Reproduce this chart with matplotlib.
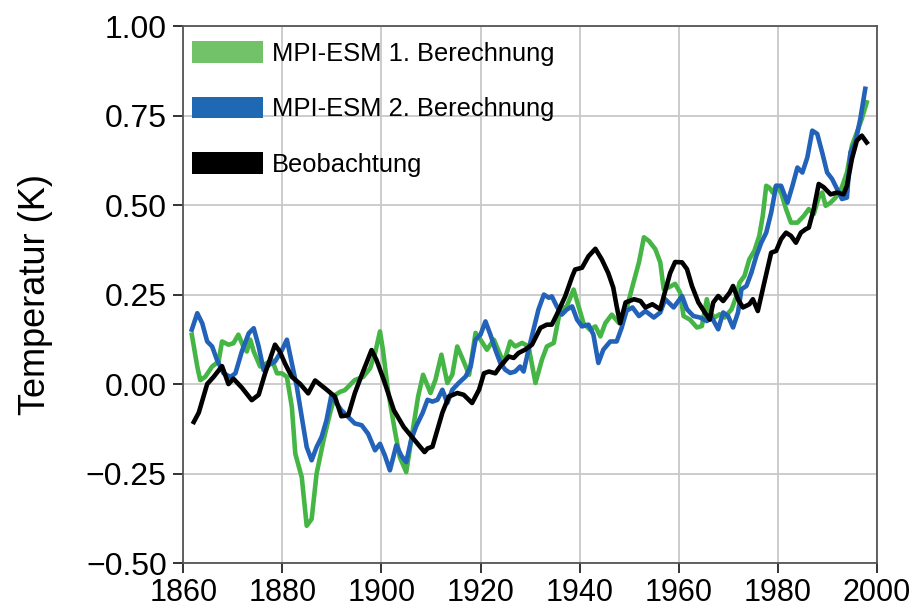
import matplotlib
matplotlib.use("Agg")
import matplotlib.pyplot as plt
from matplotlib.patches import Patch

plt.rcParams['font.family'] = ['Liberation Sans', 'DejaVu Sans']

# Beobachtung (black)
obs_year = [1862.1, 1863.1, 1864.8, 1866.1, 1867.8, 1869.1, 1870.1, 1871.8, 1873.8, 1875.2,
            1876.5, 1878.5, 1879.5, 1880.5, 1881.9, 1883.6, 1885.2, 1886.6, 1888.6, 1890.6,
            1891.9, 1893.3, 1894.6, 1896.0, 1898.0, 1899.0, 1900.5, 1902.5, 1904.5, 1906.7,
            1908.7, 1909.3, 1910.3, 1912.3, 1913.6, 1915.3, 1916.6, 1918.3, 1919.7, 1920.7,
            1921.7, 1923.0, 1924.0, 1925.7, 1926.7, 1927.7, 1929.0, 1930.4, 1932.1, 1933.4,
            1934.4, 1935.4, 1937.1, 1938.5, 1939.1, 1940.5, 1941.8, 1943.2, 1944.5, 1945.8,
            1946.8, 1947.5, 1948.2, 1949.3, 1951.0, 1952.3, 1953.3, 1954.7, 1956.3, 1957.3,
            1958.3, 1959.3, 1960.7, 1961.7, 1962.7, 1964.0, 1965.3, 1966.3, 1967.0, 1968.0,
            1969.0, 1970.3, 1971.0, 1972.0, 1973.0, 1974.3, 1975.0, 1976.0, 1977.3, 1978.7,
            1979.7, 1980.7, 1981.7, 1982.7, 1983.7, 1984.7, 1985.7, 1986.3, 1987.3, 1988.3,
            1989.3, 1990.7, 1992.0, 1993.3, 1994.0, 1995.0, 1996.0, 1997.0, 1998.0]
obs_val = [-0.106, -0.08, 0.0, 0.02, 0.05, 0.0, 0.015, -0.01, -0.045, -0.03,
           0.03, 0.11, 0.09, 0.058, 0.02, 0.0, -0.026, 0.01, -0.012, -0.035,
           -0.09, -0.087, -0.026, 0.025, 0.095, 0.067, 0.01, -0.073, -0.12, -0.157,
           -0.19, -0.18, -0.175, -0.08, -0.035, -0.025, -0.03, -0.053, -0.016, 0.03,
           0.035, 0.03, 0.05, 0.077, 0.073, 0.087, 0.096, 0.11, 0.157, 0.166,
           0.166, 0.194, 0.245, 0.30, 0.32, 0.325, 0.357, 0.378, 0.348, 0.31,
           0.27, 0.217, 0.17, 0.228, 0.237, 0.232, 0.214, 0.223, 0.209, 0.26,
           0.31, 0.341, 0.34, 0.321, 0.274, 0.228, 0.2, 0.18, 0.228, 0.246,
           0.232, 0.255, 0.274, 0.237, 0.214, 0.223, 0.237, 0.204, 0.283, 0.367,
           0.372, 0.405, 0.423, 0.414, 0.395, 0.423, 0.433, 0.437, 0.489, 0.559,
           0.55, 0.53, 0.535, 0.53, 0.554, 0.629, 0.68, 0.694, 0.675]

# MPI-ESM 1. Berechnung (green)
run1_year = [1861.7, 1862.8, 1863.4, 1864.4, 1865.8, 1867.1, 1867.8, 1869.1, 1870.1, 1871.1,
             1872.1, 1872.8, 1873.5, 1874.2, 1875.5, 1876.8, 1877.9, 1878.9, 1879.9, 1880.9,
             1881.9, 1882.6, 1883.9, 1884.9, 1885.9, 1886.9, 1888.3, 1889.6, 1890.6, 1891.6,
             1892.6, 1893.6, 1894.6, 1896.3, 1897.7, 1898.7, 1899.7, 1900.3, 1901.3, 1902.7,
             1903.7, 1905.0, 1906.0, 1907.4, 1908.4, 1909.9, 1910.9, 1912.1, 1913.3, 1914.3,
             1915.3, 1916.3, 1917.7, 1919.0, 1920.0, 1921.3, 1922.7, 1923.7, 1924.7, 1926.0,
             1927.0, 1928.4, 1929.7, 1931.1, 1932.4, 1933.4, 1934.8, 1936.1, 1937.4, 1938.8,
             1939.8, 1940.8, 1942.1, 1943.2, 1944.2, 1945.2, 1946.5, 1948.0, 1949.3, 1950.7,
             1952.0, 1953.0, 1954.0, 1955.3, 1956.3, 1957.0, 1958.0, 1959.3, 1960.3, 1961.0,
             1962.3, 1963.7, 1964.7, 1965.7, 1966.3, 1967.3, 1968.3, 1969.3, 1970.7, 1971.7,
             1972.3, 1973.3, 1974.3, 1975.3, 1976.3, 1977.0, 1977.7, 1978.3, 1979.0, 1979.7,
             1980.7, 1981.7, 1982.7, 1984.0, 1985.3, 1986.3, 1987.3, 1988.3, 1989.0, 1989.7,
             1990.7, 1991.7, 1992.7, 1993.3, 1994.0, 1995.0, 1996.0, 1997.0, 1998.0]
run1_val = [0.138, 0.049, 0.011, 0.02, 0.049, 0.063, 0.119, 0.11, 0.114, 0.138,
            0.105, 0.091, 0.124, 0.091, 0.049, 0.058, 0.067, 0.03, 0.03, 0.02,
            -0.064, -0.195, -0.26, -0.396, -0.377, -0.25, -0.157, -0.082, -0.031, -0.022,
            -0.017, -0.003, 0.011, 0.02, 0.044, 0.086, 0.147, 0.095, -0.017, -0.13,
            -0.204, -0.246, -0.157, -0.035, 0.026, -0.025, 0.012, 0.082, 0.003, 0.026,
            0.105, 0.073, 0.026, 0.143, 0.124, 0.096, 0.124, 0.091, 0.059, 0.119,
            0.105, 0.115, 0.105, 0.003, 0.068, 0.105, 0.115, 0.208, 0.217, 0.264,
            0.217, 0.17, 0.152, 0.161, 0.133, 0.17, 0.194, 0.17, 0.2, 0.274,
            0.34, 0.41, 0.4, 0.377, 0.34, 0.265, 0.27, 0.28, 0.256, 0.19,
            0.18, 0.158, 0.162, 0.237, 0.2, 0.186, 0.195, 0.186, 0.209, 0.246,
            0.283, 0.302, 0.349, 0.372, 0.414, 0.47, 0.554, 0.549, 0.535, 0.554,
            0.535, 0.489, 0.451, 0.451, 0.47, 0.489, 0.475, 0.521, 0.535, 0.498,
            0.507, 0.521, 0.54, 0.563, 0.591, 0.666, 0.703, 0.741, 0.787]

# MPI-ESM 2. Berechnung (blue)
run2_year = [1861.7, 1862.8, 1863.8, 1864.8, 1865.8, 1866.8, 1868.1, 1869.5, 1870.5, 1871.8,
             1873.2, 1874.2, 1875.2, 1876.2, 1877.2, 1878.5, 1879.9, 1880.9, 1881.9, 1882.9,
             1883.9, 1884.9, 1885.9, 1886.9, 1887.9, 1888.9, 1889.9, 1890.9, 1891.9, 1893.3,
             1894.6, 1896.0, 1897.3, 1898.7, 1899.7, 1900.7, 1901.7, 1903.0, 1904.0, 1905.0,
             1906.0, 1907.0, 1908.3, 1909.3, 1910.3, 1911.3, 1912.3, 1913.3, 1914.3, 1915.6,
             1917.0, 1918.0, 1919.0, 1920.0, 1921.0, 1922.0, 1923.0, 1924.0, 1925.0, 1926.0,
             1927.0, 1928.0, 1928.7, 1929.7, 1930.7, 1931.7, 1932.8, 1933.8, 1934.4, 1935.4,
             1936.4, 1937.4, 1938.5, 1939.5, 1940.5, 1941.8, 1942.8, 1943.8, 1944.8, 1946.2,
             1947.5, 1948.5, 1949.5, 1950.7, 1952.0, 1953.3, 1955.0, 1956.3, 1957.3, 1959.0,
             1960.7, 1961.7, 1963.0, 1964.3, 1965.7, 1966.7, 1968.0, 1969.0, 1970.0, 1971.0,
             1972.0, 1972.7, 1973.7, 1974.7, 1975.7, 1976.7, 1977.7, 1978.7, 1979.7, 1980.7,
             1982.0, 1983.0, 1984.0, 1985.0, 1986.0, 1987.0, 1988.0, 1989.0, 1990.0, 1991.0,
             1992.0, 1993.0, 1994.0, 1994.7, 1995.7, 1996.7, 1997.7]
run2_val = [0.152, 0.198, 0.17, 0.119, 0.105, 0.067, 0.03, 0.02, 0.03, 0.091,
            0.142, 0.156, 0.105, 0.039, 0.053, 0.063, 0.095, 0.124, 0.058, -0.007,
            -0.092, -0.176, -0.213, -0.176, -0.148, -0.101, -0.031, -0.054, -0.073, -0.092,
            -0.11, -0.115, -0.139, -0.185, -0.167, -0.2, -0.241, -0.171, -0.2, -0.218,
            -0.156, -0.118, -0.081, -0.044, -0.049, -0.044, -0.016, -0.053, -0.016, 0.003,
            0.021, 0.049, 0.124, 0.138, 0.175, 0.138, 0.096, 0.059, 0.04, 0.031,
            0.035, 0.049, 0.035, 0.096, 0.152, 0.208, 0.25, 0.241, 0.245, 0.217,
            0.194, 0.208, 0.217, 0.18, 0.161, 0.166, 0.138, 0.059, 0.096, 0.119,
            0.119, 0.157, 0.205, 0.214, 0.19, 0.204, 0.186, 0.2, 0.237, 0.214,
            0.246, 0.209, 0.19, 0.186, 0.176, 0.186, 0.153, 0.2, 0.19, 0.158,
            0.2, 0.265, 0.274, 0.311, 0.358, 0.395, 0.423, 0.479, 0.554, 0.554,
            0.507, 0.554, 0.605, 0.591, 0.633, 0.708, 0.699, 0.647, 0.591, 0.573,
            0.545, 0.517, 0.521, 0.647, 0.675, 0.741, 0.825]

labels = ['MPI-ESM 1. Berechnung', 'MPI-ESM 2. Berechnung', 'Beobachtung']
green = '#45b545'
blue = '#2262b8'

fig = plt.figure(figsize=(9.17, 6.08), dpi=100)
ax = fig.add_axes([0.2, 0.074, 0.756, 0.883])

ax.plot(run1_year, run1_val, color=green, lw=3.3, solid_joinstyle='round')
ax.plot(run2_year, run2_val, color=blue, lw=3.3, solid_joinstyle='round')
ax.plot(obs_year, obs_val, color='black', lw=3.3, solid_joinstyle='round')

ax.set_xlim(1860, 2000)
ax.set_ylim(-0.5, 1.0)
ax.set_xticks(range(1860, 2001, 20))
ax.set_yticks([-0.5, -0.25, 0, 0.25, 0.5, 0.75, 1.0])
ax.set_yticklabels(['\u22120.50', '\u22120.25', '0.00', '0.25', '0.50', '0.75', '1.00'])
ax.grid(True, color='#c8c8c8', lw=1.3)
ax.set_axisbelow(True)
ax.tick_params(axis='y', labelsize=23, length=7, width=1.4, color='#333333', pad=5)
ax.tick_params(axis='x', labelsize=22, length=7, width=1.4, color='#333333', pad=4)
for s in ax.spines.values():
    s.set_color('#555555')
    s.set_linewidth(1.3)
ax.set_ylabel('Temperatur (K)', fontsize=26, labelpad=24)

handles = [Patch(facecolor='#72c26a'), Patch(facecolor='#1f68b4'), Patch(facecolor='black')]
ax.legend(handles, labels, loc='upper left', frameon=False, fontsize=18.4,
          handlelength=2.75, handleheight=0.94, labelspacing=1.2,
          handletextpad=0.35, borderpad=0, borderaxespad=0,
          bbox_to_anchor=(0.013, 0.972))

fig.savefig('out.png', dpi=100, facecolor='white')
